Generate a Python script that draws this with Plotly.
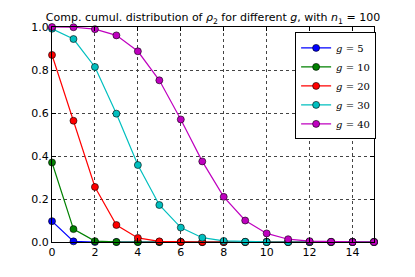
import plotly.graph_objects as go

x = list(range(16))
labels = ["<i>g</i> = 5", "<i>g</i> = 10", "<i>g</i> = 20", "<i>g</i> = 30", "<i>g</i> = 40"]
g5 = [0.097, 0.003, 0, 0, 0, 0, 0, 0, 0, 0, 0, 0, 0, 0, 0, 0]
g10 = [0.37, 0.06, 0.004, 0.0002, 0, 0, 0, 0, 0, 0, 0, 0, 0, 0, 0, 0]
g20 = [0.87, 0.564, 0.256, 0.079, 0.019, 0.003, 0.0004, 0, 0, 0, 0, 0, 0, 0, 0, 0]
g30 = [0.992, 0.944, 0.814, 0.597, 0.358, 0.172, 0.067, 0.02, 0.005, 0.001, 0.0002, 0, 0, 0, 0, 0]
g40 = [1.0, 0.999, 0.99, 0.961, 0.887, 0.752, 0.57, 0.375, 0.21, 0.1, 0.04, 0.013, 0.004, 0.001, 0.0002, 0]
series = [g5, g10, g20, g30, g40]
colors = ["#0000ff", "#008000", "#ff0000", "#00bfbf", "#bf00bf"]

fig = go.Figure()
for lab, ys, c in zip(labels, series, colors):
    fig.add_trace(go.Scatter(
        x=x, y=ys, name=lab, mode="lines+markers",
        line=dict(color=c, width=1.2),
        marker=dict(color=c, size=7, line=dict(color="#000000", width=0.6)),
        cliponaxis=False,
    ))

axis_common = dict(
    showline=True, linecolor="black", linewidth=1, mirror="ticks",
    ticks="inside", ticklen=4, tickcolor="black",
    showgrid=True, gridcolor="#444444", griddash="dot", gridwidth=1,
    zeroline=False, tickfont=dict(family="DejaVu Sans", size=11, color="black"),
)
fig.update_xaxes(range=[0, 15], tickvals=[0, 2, 4, 6, 8, 10, 12, 14], **axis_common)
fig.update_yaxes(range=[0, 1.0], tickvals=[0, 0.2, 0.4, 0.6, 0.8, 1.0],
                 ticktext=["0.0", "0.2", "0.4", "0.6", "0.8", "1.0"], **axis_common)

fig.update_layout(
    width=415, height=277,
    margin=dict(l=52, r=41, t=27, b=35),
    paper_bgcolor="white", plot_bgcolor="white",
    title=dict(text="Comp. cumul. distribution of <i>ρ</i><sub>2</sub> for different <i>g</i>, with <i>n</i><sub>1</sub> = 100",
               x=0.5, xref="paper", xanchor="center", y=0.937, yanchor="middle",
               font=dict(family="DejaVu Sans", size=11, color="black")),
    legend=dict(x=0.755, y=0.975, xanchor="left", yanchor="top",
                bordercolor="black", borderwidth=1, bgcolor="white",
                font=dict(family="DejaVu Serif", size=10, color="black"),
                tracegroupgap=0, itemwidth=30),
    showlegend=True,
)

fig.write_html("out.html", config={"displayModeBar": False},
               post_script="document.body.style.margin='0';")
